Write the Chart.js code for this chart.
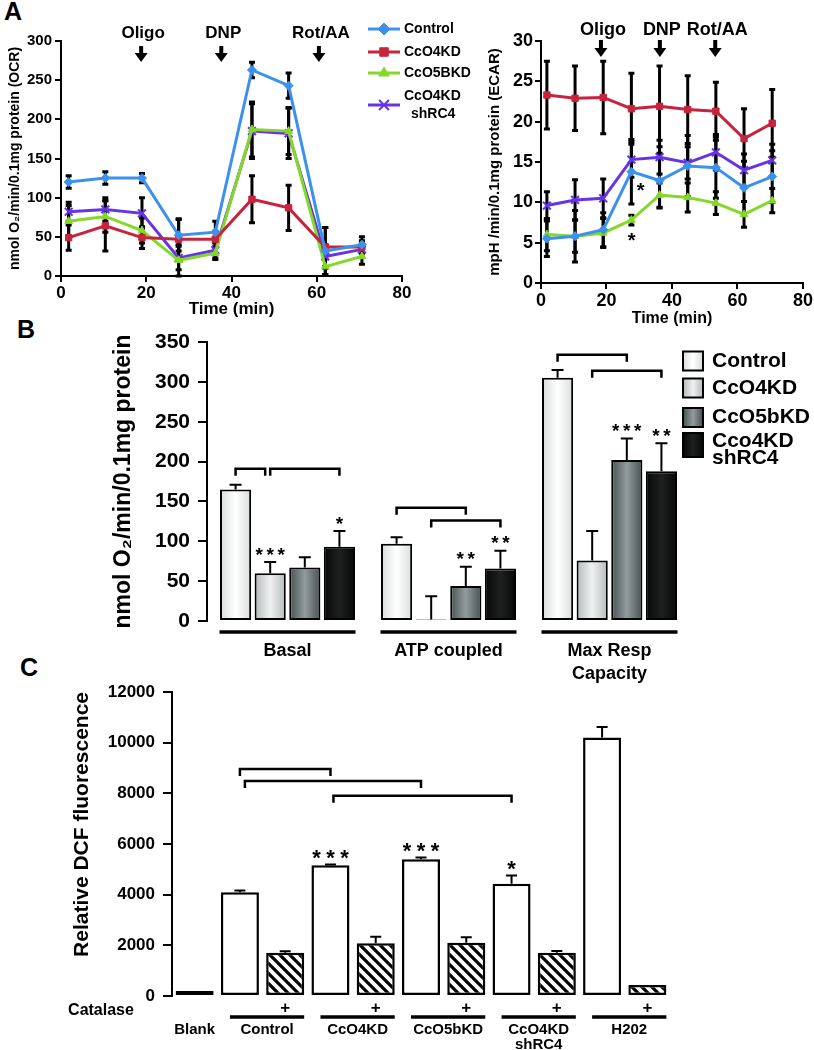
<!DOCTYPE html>
<html>
<head>
<meta charset="utf-8">
<title>CcO knockdown: OCR, ECAR, respiration and DCF</title>
<script src="https://cdn.jsdelivr.net/npm/chart.js@4.4.1/dist/chart.umd.min.js"></script>
<style>
  html, body { margin: 0; padding: 0; background: #fff; }
  body { position: relative; width: 814px; height: 1050px; overflow: hidden; font-family: "Liberation Sans", Arial, sans-serif; }
  .panel { position: absolute; }
  .tag { position: absolute; font-weight: bold; font-size: 25px; line-height: 25px; }
</style>
</head>
<body>
<div class="tag" style="left:4px;top:-1px">A</div>
<div class="tag" style="left:17px;top:317px">B</div>
<div class="tag" style="left:20px;top:655px">C</div>

<div class="panel" style="left:0;top:0;width:480px;height:320px"><canvas id="ocr"></canvas></div>
<div class="panel" style="left:480px;top:0;width:334px;height:330px"><canvas id="ecar"></canvas></div>
<div class="panel" style="left:100px;top:320px;width:714px;height:380px"><canvas id="resp"></canvas></div>
<div class="panel" style="left:0;top:655px;width:814px;height:395px"><canvas id="dcf"></canvas></div>

<script>
const FONT = '"Liberation Sans", Arial, sans-serif';

// Seahorse time course (min) - same sampling for OCR and ECAR
const timePoints = [1.8, 10.4, 19, 27.6, 36.2, 44.8, 53.4, 62, 70.6];

// OCR, nmol O2/min/0.1mg protein
const ocrControl = [120, 125, 125, 52, 56, 263, 243, 32, 40];
const ocrCcO4KD = [49, 64, 49, 47, 47, 98, 87, 37, 37];
const ocrCcO5BKD = [70, 76, 58, 20, 29, 187, 185, 12, 25];
const ocrShRC4 = [82, 85, 80, 23, 33, 185, 182, 25, 34];
const ocrControlErr = [8, 8, 6, 20, 14, 10, 16, 30, 10];
const ocrCcO4KDErr = [16, 32, 14, 26, 10, 30, 29, 25, 8];
const ocrCcO5BKDErr = [20, 20, 16, 20, 8, 35, 30, 10, 10];
const ocrShRC4Err = [12, 15, 20, 15, 10, 35, 32, 15, 10];

// ECAR, mpH/min/0.1mg protein
const ecarControl = [5.5, 5.8, 6.6, 13.8, 12.7, 14.5, 14.3, 11.8, 13.2];
const ecarCcO4KD = [23.3, 22.9, 23.0, 21.6, 21.9, 21.5, 21.3, 17.9, 19.8];
const ecarCcO5BKD = [6.0, 5.8, 6.2, 7.8, 10.9, 10.6, 9.9, 8.5, 10.2];
const ecarShRC4 = [9.6, 10.3, 10.5, 15.3, 15.6, 14.9, 16.2, 14.0, 15.2];
const ecarControlErr = [2.2, 3.2, 2.1, 4.0, 3.4, 3.8, 3.8, 3.3, 3.2];
const ecarCcO4KDErr = [4.2, 4.0, 4.5, 4.4, 5.0, 4.2, 3.6, 3.7, 4.2];
const ecarCcO5BKDErr = [2.0, 2.0, 1.8, 0.6, 1.5, 1.8, 1.4, 1.6, 1.5];
const ecarShRC4Err = [1.7, 2.5, 2.4, 2.2, 2.1, 2.0, 2.2, 2.0, 2.0];

const injectionLabels = ['Oligo', 'DNP', 'Rot/AA'];
const ocrInjections = [18.8, 37.6, 60.5];
const ecarInjections = [18.3, 36.3, 53.2];
const ecarStarPoints = [[30.4, 12.1], [27.7, 5.9]];

// Panel B
const respGroups = ['Basal', 'ATP coupled', ['Max Resp', 'Capacity']];
const respNames = ['Control', 'CcO4KD', 'CcO5bKD', 'Cco4KD shRC4'];
const respControl = [165, 97, 305];
const respCcO4KD = [60, 2, 76];
const respCcO5bKD = [67, 44, 202];
const respShRC4 = [93, 66, 188];
const respControlErr = [6, 8, 10];
const respCcO4KDErr = [14, 29, 37];
const respCcO5bKDErr = [13, 24, 27];
const respShRC4Err = [20, 22, 35];
const respStars = [[0, 1, 3], [0, 3, 1], [1, 2, 2], [1, 3, 2], [2, 2, 3], [2, 3, 2]]; // group, bar, count

// Panel C
const dcfLabels = ['Blank', 'Control', 'Control', 'CcO4KD', 'CcO4KD', 'CcO5bKD', 'CcO5bKD',
  'CcO4KD shRC4', 'CcO4KD shRC4', 'H202', 'H202'];
const dcfCatalase = [false, false, true, false, true, false, true, false, true, false, true];
const dcfValues = [200, 4100, 1710, 5160, 2080, 5400, 2100, 4430, 1710, 10200, 430];
const dcfErrors = [0, 60, 60, 30, 260, 70, 220, 330, 70, 420, 0];
const dcfStars = [[3, 3], [5, 3], [7, 1]]; // bar, count

Chart.defaults.font.family = FONT;
Chart.defaults.font.weight = 'bold';
Chart.defaults.color = '#000';

// ---------- shared plugins ----------
function drawErrors(chart, o) {
  const ctx = chart.ctx, y = chart.scales.y;
  ctx.save();
  ctx.strokeStyle = '#000';
  ctx.lineWidth = o.width;
  chart.data.datasets.forEach((ds, di) => {
    if (!ds.errors) return;
    chart.getDatasetMeta(di).data.forEach((el, i) => {
      const err = ds.errors[i];
      if (!err) return;
      const raw = ds.data[i];
      const v = typeof raw === 'number' ? raw : raw.y;
      const top = y.getPixelForValue(v + err);
      const bot = y.getPixelForValue(o.both ? v - err : v);
      ctx.beginPath();
      ctx.moveTo(el.x, top); ctx.lineTo(el.x, bot);
      ctx.moveTo(el.x - o.cap / 2, top); ctx.lineTo(el.x + o.cap / 2, top);
      if (o.both) { ctx.moveTo(el.x - o.cap / 2, bot); ctx.lineTo(el.x + o.cap / 2, bot); }
      ctx.stroke();
    });
  });
  ctx.restore();
}

const errorBarPlugin = {
  id: 'errorBars',
  defaults: { width: 2, cap: 8, both: false, under: false },
  beforeDatasetsDraw(chart, args, o) { if (o.under) drawErrors(chart, o); },
  afterDatasetsDraw(chart, args, o) { if (!o.under) drawErrors(chart, o); }
};

function drawStars(ctx, cx, cy, n, size, gap) {
  ctx.font = 'bold ' + size + 'px ' + FONT;
  ctx.textAlign = 'center';
  ctx.textBaseline = 'alphabetic';
  for (let k = 0; k < n; k++) {
    ctx.fillText('*', cx + (k - (n - 1) / 2) * gap, cy + size * 0.56);
  }
}

function drawBracket(ctx, x1, x2, y, leg) {
  ctx.beginPath();
  ctx.moveTo(x1, y + leg); ctx.lineTo(x1, y); ctx.lineTo(x2, y); ctx.lineTo(x2, y + leg);
  ctx.stroke();
}

const injectionPlugin = {
  id: 'injections',
  afterDraw(chart, args, o) {
    const ctx = chart.ctx, x = chart.scales.x;
    ctx.save();
    ctx.fillStyle = '#000';
    ctx.font = 'bold ' + o.size + 'px ' + FONT;
    ctx.textAlign = 'center';
    ctx.textBaseline = 'middle';
    o.times.forEach((t, i) => {
      const px = x.getPixelForValue(t);
      ctx.fillText(injectionLabels[i], px + 2, o.labelY);
      ctx.fillRect(px - 2, o.top, 4, o.bottom - o.top - 7);
      ctx.beginPath();
      ctx.moveTo(px - 6.5, o.bottom - 9); ctx.lineTo(px + 6.5, o.bottom - 9); ctx.lineTo(px, o.bottom);
      ctx.closePath();
      ctx.fill();
    });
    if (o.stars) {
      const y = chart.scales.y;
      o.stars.forEach(([t, v]) => drawStars(ctx, x.getPixelForValue(t), y.getPixelForValue(v), 1, 20, 0));
    }
    ctx.restore();
  }
};

const ocrKeyPlugin = {
  id: 'ocrKey',
  afterDraw(chart) {
    const ctx = chart.ctx;
    const rows = [29, 52, 73, 105];
    ctx.save();
    ctx.font = 'bold 14px ' + FONT;
    ctx.textAlign = 'left';
    ctx.textBaseline = 'middle';
    chart.data.datasets.forEach((ds, i) => {
      const y = rows[i];
      ctx.strokeStyle = ds.borderColor;
      ctx.lineWidth = 3;
      ctx.beginPath(); ctx.moveTo(368, y); ctx.lineTo(400, y); ctx.stroke();
      ctx.fillStyle = ds.borderColor;
      ctx.lineWidth = ds.pointBorderWidth;
      Chart.helpers.drawPoint(ctx, { pointStyle: ds.pointStyle, radius: ds.pointRadius + 1.5, rotation: 0, borderWidth: ds.pointBorderWidth }, 384, y);
      ctx.fillStyle = '#000';
      const words = ds.label.split(' ');
      if (words.length === 1) ctx.fillText(ds.label, 404, y);
      else { ctx.fillText(words[0], 404, y - 9); ctx.fillText(words[1], 411, y + 9); }
    });
    ctx.restore();
  }
};

// ---------- panel A helpers ----------
const lineColors = ['#3d91ec', '#c8233d', '#84d82a', '#6634e4'];
const lineStyles = ['rectRot', 'rect', 'triangle', 'crossRot'];
const lineNames = ['Control', 'CcO4KD', 'CcO5BKD', 'CcO4KD shRC4'];

function lineSeries(i, values, errors) {
  const cross = lineStyles[i] === 'crossRot';
  return {
    label: lineNames[i],
    errors: errors,
    data: timePoints.map((t, k) => ({ x: t, y: values[k] })),
    borderColor: lineColors[i],
    backgroundColor: lineColors[i],
    pointBackgroundColor: lineColors[i],
    pointBorderColor: lineColors[i],
    pointStyle: lineStyles[i],
    pointRadius: cross ? 5.5 : 4.5,
    pointBorderWidth: cross ? 2 : 1,
    borderWidth: 3,
    tension: 0
  };
}

function timeAxis(tickSize, titleSize, height, titlePad) {
  return {
    type: 'linear', min: 0, max: 80,
    ticks: { stepSize: 20, font: { size: tickSize, weight: 'bold' }, padding: 1 },
    grid: { drawOnChartArea: false, tickLength: 6, color: '#000', lineWidth: 2 },
    border: { color: '#000', width: 2 },
    title: { display: true, text: 'Time (min)', font: { size: titleSize, weight: 'bold' }, padding: { top: 0, bottom: titlePad } },
    afterFit: s => { s.height = height; }
  };
}

function valueAxis(max, step, tickSize, tickLen, tickPad, title, titleSize, titlePad, width, align) {
  return {
    min: 0, max: max,
    ticks: { stepSize: step, font: { size: tickSize, weight: 'bold' }, padding: tickPad, callback: v => String(v) },
    grid: { drawOnChartArea: false, tickLength: tickLen, color: '#000', lineWidth: 2 },
    border: { color: '#000', width: 2 },
    title: { display: true, text: title, align: align || 'center', font: { size: titleSize, weight: 'bold' }, padding: { top: titlePad, bottom: 0 } },
    afterFit: s => { s.width = width; }
  };
}

const quiet = { legend: { display: false }, tooltip: { enabled: false } };

// ---------- A: OCR ----------
new Chart(document.getElementById('ocr'), {
  type: 'line',
  data: {
    datasets: [
      lineSeries(0, ocrControl, ocrControlErr),
      lineSeries(1, ocrCcO4KD, ocrCcO4KDErr),
      lineSeries(2, ocrCcO5BKD, ocrCcO5BKDErr),
      lineSeries(3, ocrShRC4, ocrShRC4Err)
    ]
  },
  options: {
    responsive: true, maintainAspectRatio: false, animation: false, events: [],
    layout: { padding: { top: 41, right: 78, left: 0, bottom: 0 } },
    plugins: {
      ...quiet,
      errorBars: { both: true, width: 3, cap: 6, under: true },
      injections: { times: ocrInjections, size: 17, labelY: 33, top: 46, bottom: 62 }
    },
    scales: {
      x: timeAxis(17, 17, 44, 0),
      y: valueAxis(300, 50, 15, 6, 3, 'nmol O\u2082/min/0.1mg protein (OCR)', 14, 7, 61)
    }
  },
  plugins: [errorBarPlugin, injectionPlugin, ocrKeyPlugin]
});

// ---------- A: ECAR ----------
new Chart(document.getElementById('ecar'), {
  type: 'line',
  data: {
    datasets: [
      lineSeries(0, ecarControl, ecarControlErr),
      lineSeries(1, ecarCcO4KD, ecarCcO4KDErr),
      lineSeries(2, ecarCcO5BKD, ecarCcO5BKDErr),
      lineSeries(3, ecarShRC4, ecarShRC4Err)
    ]
  },
  options: {
    responsive: true, maintainAspectRatio: false, animation: false, events: [],
    layout: { padding: { top: 41, right: 11, left: 0, bottom: 0 } },
    plugins: {
      ...quiet,
      errorBars: { both: true, width: 3, cap: 6, under: true },
      injections: { times: ecarInjections, size: 18, labelY: 30, top: 40, bottom: 57, stars: ecarStarPoints }
    },
    scales: {
      x: timeAxis(18, 16, 47, 2),
      y: valueAxis(30, 5, 18, 6, 2, 'mpH /min/0.1mg protein (ECAR)', 15, 6, 61)
    }
  },
  plugins: [errorBarPlugin, injectionPlugin]
});

// ---------- B: respiration bars ----------
const respShades = [['#dadddd', '#ffffff'], ['#b3b9b9', '#f0f2f2'], ['#485151', '#939c9c'], ['#060808', '#1e2020']];
const BAR_PCT = 0.9, CAT_PCT = 0.86;

function barShade(edge, mid) {
  return ctx => {
    const chart = ctx.chart, x = chart.scales.x;
    if (ctx.type !== 'data' || !chart.chartArea || !x) return mid;
    const n = chart.data.labels.length, nd = chart.data.datasets.length;
    const groupW = (x.right - x.left) / n * CAT_PCT, slot = groupW / nd;
    const cx = x.getPixelForValue(ctx.dataIndex) - groupW / 2 + slot * (ctx.datasetIndex + 0.5);
    const half = slot * BAR_PCT / 2;
    if (!isFinite(cx) || !isFinite(half)) return mid;
    const g = chart.ctx.createLinearGradient(cx - half, 0, cx + half, 0);
    g.addColorStop(0, edge); g.addColorStop(0.5, mid); g.addColorStop(1, edge);
    return g;
  };
}

function respSeries(i, values, errors) {
  return {
    label: respNames[i], data: values, errors: errors,
    backgroundColor: barShade(respShades[i][0], respShades[i][1]),
    borderColor: '#000', borderWidth: 2, borderSkipped: false,
    barPercentage: BAR_PCT, categoryPercentage: CAT_PCT
  };
}

const respNotesPlugin = {
  id: 'respNotes',
  afterDraw(chart, args, o) {
    const ctx = chart.ctx, x = chart.scales.x, y = chart.scales.y;
    const barX = (g, b) => chart.getDatasetMeta(b).data[g].x;
    ctx.save();
    ctx.strokeStyle = '#000';
    ctx.fillStyle = '#000';
    ctx.lineWidth = 2.5;
    o.brackets.forEach(([g, a, b, v, da, db]) => drawBracket(ctx, barX(g, a) + da, barX(g, b) + db, y.getPixelForValue(v), 7));
    respStars.forEach(([g, b, n]) => {
      const ds = chart.data.datasets[b];
      drawStars(ctx, barX(g, b), y.getPixelForValue(ds.data[g] + ds.errors[g]) - 12, n, 19, 11);
    });
    ctx.lineWidth = 3.5;
    respGroups.forEach((_, g) => {
      const c = x.getPixelForValue(g);
      ctx.beginPath(); ctx.moveTo(c - 68, 312); ctx.lineTo(c + 68, 312); ctx.stroke();
    });
    // key
    const boxes = [[41, 19], [68, 19], [97.5, 19], [125, 24]];
    ctx.lineWidth = 2;
    ctx.font = 'bold 21px ' + FONT;
    ctx.textAlign = 'left';
    ctx.textBaseline = 'middle';
    chart.data.datasets.forEach((ds, i) => {
      const [cy, h] = boxes[i];
      const g = ctx.createLinearGradient(583, 0, 603, 0);
      g.addColorStop(0, respShades[i][0]); g.addColorStop(0.5, respShades[i][1]); g.addColorStop(1, respShades[i][0]);
      ctx.fillStyle = g;
      ctx.fillRect(583, cy - h / 2, 20, h);
      ctx.strokeRect(583, cy - h / 2, 20, h);
      ctx.fillStyle = '#000';
      const words = ds.label.split(' ');
      if (words.length === 1) ctx.fillText(ds.label, 612, cy);
      else { ctx.fillText(words[0], 612, cy - 4); ctx.fillText(words[1], 612, cy + 13); }
    });
    ctx.restore();
  }
};

new Chart(document.getElementById('resp'), {
  type: 'bar',
  data: {
    labels: respGroups,
    datasets: [
      respSeries(0, respControl, respControlErr),
      respSeries(1, respCcO4KD, respCcO4KDErr),
      respSeries(2, respCcO5bKD, respCcO5bKDErr),
      respSeries(3, respShRC4, respShRC4Err)
    ]
  },
  options: {
    responsive: true, maintainAspectRatio: false, animation: false, events: [],
    layout: { padding: { top: 22, right: 124, left: 0, bottom: 0 } },
    plugins: {
      ...quiet,
      errorBars: { both: false, width: 2, cap: 12 },
      respNotes: {
        brackets: [[0, 0, 1, 191, 0, -5], [0, 1, 3, 191, 0, 0], [1, 0, 2, 142, 0, 0],
                   [1, 1, 3, 126, 0, 0], [2, 0, 2, 334, 0, 0], [2, 1, 3, 314, 0, 0]]
      }
    },
    scales: {
      x: {
        ticks: { font: { size: 18, weight: 'bold', lineHeight: 1.3 }, padding: 18, maxRotation: 0, autoSkip: false },
        grid: { display: false, drawTicks: false },
        border: { display: false },
        afterFit: s => { s.height = 79; }
      },
      y: valueAxis(350, 50, 21, 9, 8, 'nmol O\u2082/min/0.1mg protein', 23, 10, 107)
    }
  },
  plugins: [errorBarPlugin, respNotesPlugin]
});

// ---------- C: DCF fluorescence ----------
function makeHatch() {
  const c = document.createElement('canvas');
  c.width = 10; c.height = 10;
  const g = c.getContext('2d');
  g.fillStyle = '#fff';
  g.fillRect(0, 0, 10, 10);
  g.strokeStyle = '#000';
  g.lineWidth = 3.2;
  g.beginPath();
  g.moveTo(-5, -5); g.lineTo(15, 15);
  g.moveTo(-5, 5); g.lineTo(5, 15);
  g.moveTo(5, -5); g.lineTo(15, 5);
  g.stroke();
  return g.createPattern(c, 'repeat');
}
const hatch = makeHatch();

const dcfNotesPlugin = {
  id: 'dcfNotes',
  afterDraw(chart, args, o) {
    const ctx = chart.ctx, y = chart.scales.y;
    const bars = chart.getDatasetMeta(0).data;
    ctx.save();
    ctx.strokeStyle = '#000';
    ctx.fillStyle = '#000';
    ctx.lineWidth = 2.5;
    o.brackets.forEach(([a, b, v, da, db]) => drawBracket(ctx, bars[a].x + da, bars[b].x + db, y.getPixelForValue(v), 7));
    dcfStars.forEach(([i, n]) => drawStars(ctx, bars[i].x, y.getPixelForValue(dcfValues[i] + dcfErrors[i]) - 12, n, 22, 14));
    // group underlines and names
    ctx.font = 'bold 15px ' + FONT;
    ctx.textAlign = 'center';
    ctx.textBaseline = 'middle';
    ctx.lineWidth = 3.5;
    let i = 0;
    while (i < dcfLabels.length) {
      let j = i;
      while (j + 1 < dcfLabels.length && dcfLabels[j + 1] === dcfLabels[i]) j++;
      let cx = bars[i].x;
      if (j > i) {
        const x1 = bars[i].x - 10, x2 = bars[j].x + 19;
        ctx.beginPath(); ctx.moveTo(x1, 362); ctx.lineTo(x2, 362); ctx.stroke();
        cx = (x1 + x2) / 2;
      }
      const words = dcfLabels[i].split(' ');
      words.forEach((w, k) => ctx.fillText(w, cx, 375 + k * 15));
      i = j + 1;
    }
    ctx.font = 'bold 16px ' + FONT;
    ctx.fillText('Catalase', 101, 356);
    ctx.restore();
  }
};

new Chart(document.getElementById('dcf'), {
  type: 'bar',
  data: {
    labels: dcfLabels,
    datasets: [{
      label: 'Relative DCF fluorescence',
      data: dcfValues,
      errors: dcfErrors,
      backgroundColor: dcfCatalase.map(c => c ? hatch : '#ffffff'),
      borderColor: '#000', borderWidth: 2.5, borderSkipped: false,
      barPercentage: 0.84, categoryPercentage: 1
    }]
  },
  options: {
    responsive: true, maintainAspectRatio: false, animation: false, events: [],
    layout: { padding: { top: 37, right: 144, left: 0, bottom: 0 } },
    plugins: {
      ...quiet,
      errorBars: { both: false, width: 2, cap: 11 },
      dcfNotes: { brackets: [[1, 3, 8960, 0, 0], [1, 5, 8490, 5, 0], [3, 7, 7900, 3, 0]] }
    },
    scales: {
      x: {
        ticks: { callback: (v, i) => dcfCatalase[i] ? '+' : '', font: { size: 17, weight: 'bold' }, padding: 2, maxRotation: 0, autoSkip: false },
        grid: { display: false, drawTicks: false },
        border: { display: false },
        afterFit: s => { s.height = 54; }
      },
      y: valueAxis(12000, 2000, 17, 9, 8, 'Relative DCF fluorescence', 21, 70, 172, 'end')
    }
  },
  plugins: [errorBarPlugin, dcfNotesPlugin]
});
</script>
</body>
</html>
